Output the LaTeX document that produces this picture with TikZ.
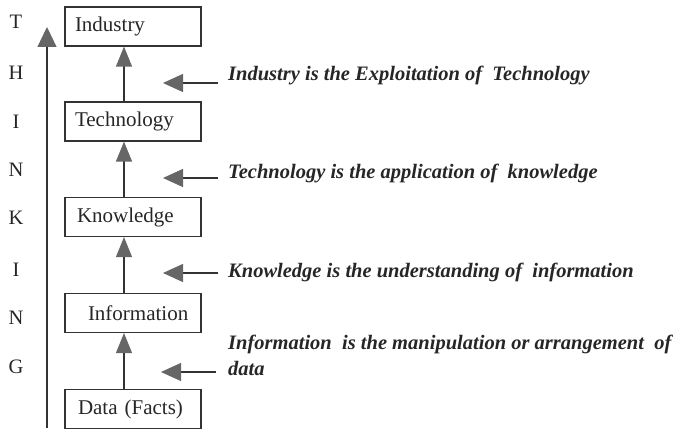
\documentclass[tikz,border=0pt]{standalone}
\usepackage{fontspec}
\setmainfont{Liberation Serif}
\usetikzlibrary{arrows.meta,positioning}

\begin{document}
\begin{tikzpicture}[x=1pt, y=-1pt,
    every node/.style={font=\fontsize{20.5}{24}\selectfont, text=black!85},
    box/.style={draw=black!80, line width=1.2pt, minimum width=136pt, minimum height=39pt,
      inner sep=0pt, inner xsep=10pt, text width=116pt, align=left, font=\fontsize{21}{24}\selectfont},
    up/.style={-{Triangle[length=20pt,width=16pt,fill=black!60,color=black!60]}, black!80, line width=1.2pt},
    pt/.style={-{Triangle[length=20pt,width=18pt,fill=black!60,color=black!60]}, black!80, line width=1.2pt},
    note/.style={anchor=west, inner sep=0pt, font=\fontsize{20.5}{26}\selectfont\bfseries\itshape}]
  \useasboundingbox (0,0) rectangle (693,430);

  % Boxes
  \node[box] (ind) at (133,26.5) {Industry};
  \node[box] (tech) at (133,121.5) {Technology};
  \node[box] (know) at (133,217) {\hspace{2pt}Knowledge};
  \node[box] (info) at (133,313) {\hspace{13pt}Information};
  \node[box] (data) at (133,409) {\hspace{3pt}Data (Facts)};

  % Arrows between boxes
  \draw[up] ([xshift=-9pt]data.north) -- ([xshift=-9pt]info.south);
  \draw[up] ([xshift=-9pt]info.north) -- ([xshift=-9pt]know.south);
  \draw[up] ([xshift=-9pt]know.north) -- ([xshift=-9pt]tech.south);
  \draw[up] ([xshift=-9pt]tech.north) -- ([xshift=-9pt]ind.south);

  % Thinking axis
  \coordinate (base) at (47,428);
  \coordinate (top) at (47,27);
  \draw[-{Triangle[length=20pt,width=19pt,fill=black!60,color=black!60]}, black!80, line width=1.2pt] (base) -- (top);
  \node (l1) at (16,22) {T};
  \node (l2) at (16,73) {H};
  \node (l3) at (16,122) {I};
  \node (l4) at (16,170) {N};
  \node (l5) at (16,218) {K};
  \node (l6) at (16,270) {I};
  \node (l7) at (16,318) {N};
  \node (l8) at (16,367) {G};

  % Notes
  \node[note] (n1) at (228,75) {Industry is the Exploitation of\ \ Technology};
  \node[note] (n2) at (228,173) {Technology is the application of\ \ knowledge};
  \node[note] (n3) at (228,272) {Knowledge is the understanding of\ \ information};
  \node[note, align=left] (n4) at (228,355) {Information\ \ is the manipulation or arrangement\ \ of\\data};

  % Pointers
  \coordinate (a1) at (218,83);  \coordinate (b1) at (163,83);
  \coordinate (a2) at (218,178); \coordinate (b2) at (163,178);
  \coordinate (a3) at (218,273); \coordinate (b3) at (163,273);
  \coordinate (a4) at (216,372); \coordinate (b4) at (161,372);
  \draw[pt] (a1) -- (b1);
  \draw[pt] (a2) -- (b2);
  \draw[pt] (a3) -- (b3);
  \draw[pt] (a4) -- (b4);
\end{tikzpicture}
\end{document}
